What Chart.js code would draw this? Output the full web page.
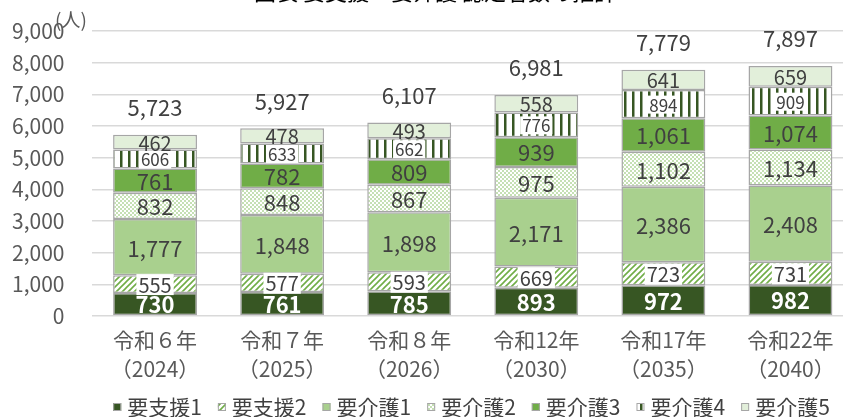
<!DOCTYPE html>
<html lang="ja">
<head>
<meta charset="utf-8">
<script src="https://cdn.jsdelivr.net/npm/chart.js@4.4.1/dist/chart.umd.min.js"></script>
<style>
  html, body { margin: 0; padding: 0; background: #fff; overflow: hidden; }
  canvas { display: block; }
</style>
</head>
<body>
<canvas id="grafikKaigo" width="854" height="417"></canvas>
<script>
// Data
const tahun = [
  ['令和６年', '（2024）'],
  ['令和７年', '（2025）'],
  ['令和８年', '（2026）'],
  ['令和12年', '（2030）'],
  ['令和17年', '（2035）'],
  ['令和22年', '（2040）']
];
const namaSeri = ['要支援1', '要支援2', '要介護1', '要介護2', '要介護3', '要介護4', '要介護5'];
const yoshien1 = [730, 761, 785, 893, 972, 982];
const yoshien2 = [555, 577, 593, 669, 723, 731];
const kaigo1 = [1777, 1848, 1898, 2171, 2386, 2408];
const kaigo2 = [832, 848, 867, 975, 1102, 1134];
const kaigo3 = [761, 782, 809, 939, 1061, 1074];
const kaigo4 = [606, 633, 662, 776, 894, 909];
const kaigo5 = [462, 478, 493, 558, 641, 659];
const jumlah = [5723, 5927, 6107, 6981, 7779, 7897];
const yTicks = [0, 1000, 2000, 3000, 4000, 5000, 6000, 7000, 8000, 9000];

const FONT = '"Noto Sans CJK JP", sans-serif';
const fmt = v => v.toLocaleString('en-US');

// Pola (patterns)
function buatPola(w, h, gambar) {
  const c = document.createElement('canvas');
  c.width = w; c.height = h;
  const g = c.getContext('2d');
  g.fillStyle = '#fff';
  g.fillRect(0, 0, w, h);
  gambar(g);
  return g.createPattern(c, 'repeat');
}

const polaMiring = buatPola(6, 6, g => {
  g.strokeStyle = '#70AD47';
  g.lineWidth = 1.6;
  g.beginPath();
  g.moveTo(-1, 7); g.lineTo(7, -1);
  g.moveTo(-4, 4); g.lineTo(4, -4);
  g.moveTo(2, 10); g.lineTo(10, 2);
  g.stroke();
});

const polaKotak = buatPola(4, 4, g => {
  g.fillStyle = '#C5E0B4';
  g.fillRect(0, 0, 2, 2);
  g.fillRect(2, 2, 2, 2);
});

const polaTegak = buatPola(8, 4, g => {
  g.fillStyle = '#375623';
  g.fillRect(0, 0, 2.5, 4);
});

const warna = ['#375623', polaMiring, '#A9D08E', polaKotak, '#70AD47', polaTegak, '#E2EFDA'];
const nilai = [yoshien1, yoshien2, kaigo1, kaigo2, kaigo3, kaigo4, kaigo5];

const gayaLabel = [
  { color: '#fff', size: 22, bold: true },
  { color: '#404040', size: 20, box: true },
  { color: '#404040', size: 22 },
  { color: '#404040', size: 22 },
  { color: '#404040', size: 22 },
  { color: '#404040', size: 17, box: true },
  { color: '#404040', size: 20 }
];

// Label di dalam batang + total
const labelPlugin = {
  id: 'labelBatang',
  afterDatasetsDraw(chart) {
    const ctx = chart.ctx;
    ctx.save();
    ctx.textAlign = 'center';
    ctx.textBaseline = 'middle';
    chart.data.datasets.forEach((ds, i) => {
      const meta = chart.getDatasetMeta(i);
      const s = gayaLabel[i];
      ctx.font = (s.bold ? 'bold ' : '') + s.size + 'px ' + FONT;
      meta.data.forEach((bar, j) => {
        const teks = fmt(ds.data[j]);
        const y = (bar.y + bar.base) / 2;
        if (s.box) {
          const w = ctx.measureText(teks).width + 4;
          ctx.fillStyle = '#fff';
          ctx.fillRect(bar.x - w / 2, y - s.size / 2, w, s.size + 1);
        }
        ctx.fillStyle = s.color;
        ctx.fillText(teks, bar.x, y + 1);
      });
    });
    // total
    const sy = chart.scales.y;
    const sx = chart.scales.x;
    ctx.font = '22px ' + FONT;
    ctx.fillStyle = '#404040';
    jumlah.forEach((t, j) => {
      ctx.fillText(fmt(t), sx.getPixelForValue(j), sy.getPixelForValue(t) - 27);
    });
    ctx.restore();
  }
};

// Judul, satuan, legenda
const hiasanPlugin = {
  id: 'hiasan',
  afterDraw(chart) {
    const ctx = chart.ctx;
    ctx.save();
    ctx.fillStyle = '#000';
    ctx.font = '22px "Noto Sans CJK JP", sans-serif';
    ctx.textAlign = 'center';
    ctx.textBaseline = 'alphabetic';
    ctx.fillText('図表 要支援・要介護 認定者数の推計', 435, 0);

    ctx.fillStyle = '#595959';
    ctx.font = '19px "Noto Sans CJK JP", sans-serif';
    ctx.textBaseline = 'middle';
    ctx.fillText('(人)', 71, 20);

    // legenda
    ctx.font = '21px ' + FONT;
    ctx.textAlign = 'left';
    const kotak = 8, jarak = 6, sela = 16;
    const lebar = namaSeri.map(n => kotak + jarak + ctx.measureText(n).width);
    const total = lebar.reduce((a, b) => a + b, 0) + sela * (namaSeri.length - 1);
    let x = 471.5 - total / 2;
    const y = 407;
    namaSeri.forEach((n, i) => {
      ctx.fillStyle = warna[i];
      ctx.fillRect(x, y - kotak / 2, kotak, kotak);
      ctx.strokeStyle = '#A6A6A6';
      ctx.lineWidth = 1;
      ctx.strokeRect(x + 0.5, y - kotak / 2 + 0.5, kotak - 1, kotak - 1);
      ctx.fillStyle = '#404040';
      ctx.fillText(n, x + kotak + jarak, y);
      x += lebar[i] + sela;
    });
    ctx.restore();
  }
};

const datasets = nilai.map((d, i) => ({
  label: namaSeri[i],
  data: d,
  backgroundColor: warna[i],
  borderColor: '#A6A6A6',
  borderWidth: 1.5,
  borderSkipped: false,
  categoryPercentage: 1,
  barPercentage: 0.66
}));

new Chart(document.getElementById('grafikKaigo'), {
  type: 'bar',
  data: { labels: tahun, datasets: datasets },
  options: {
    responsive: false,
    animation: false,
    layout: { padding: { top: 31, left: 0, right: 0, bottom: 0 } },
    scales: {
      x: {
        stacked: true,
        grid: { display: false },
        border: { display: false },
        ticks: {
          color: '#595959',
          font: { family: FONT, size: 21, lineHeight: 1.35 },
          padding: 2,
          maxRotation: 0
        },
        afterFit(scale) { scale.height = 101; }
      },
      y: {
        stacked: true,
        min: 0,
        max: 9000,
        afterBuildTicks(scale) { scale.ticks = yTicks.map(v => ({ value: v })); },
        grid: { color: '#D9D9D9', lineWidth: 1.5, drawTicks: false },
        border: { display: false },
        ticks: {
          color: '#595959',
          font: { family: FONT, size: 21 },
          padding: 27,
          callback: v => fmt(v)
        },
        afterFit(scale) { scale.width = 91.5; scale.paddingTop = 0; scale.paddingBottom = 0; }
      }
    },
    plugins: {
      legend: { display: false },
      tooltip: { enabled: false }
    }
  },
  plugins: [labelPlugin, hiasanPlugin]
});
</script>
</body>
</html>
